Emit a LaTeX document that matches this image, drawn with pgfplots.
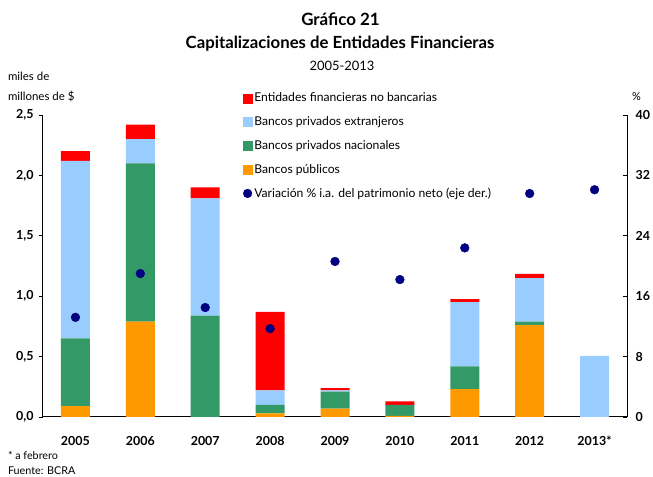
\documentclass[border=0pt]{standalone}
\usepackage{fontspec}
\setmainfont{Lato}
\usepackage{pgfplots}
\pgfplotsset{compat=1.18}
\definecolor{cred}{RGB}{255,0,0}
\definecolor{cblue}{RGB}{153,204,255}
\definecolor{cgreen}{RGB}{51,153,102}
\definecolor{corange}{RGB}{255,153,0}
\definecolor{cnavy}{RGB}{0,0,128}
\begin{document}
\begin{tikzpicture}[x=1bp,y=1bp]
\path[use as bounding box] (-43,-60) rectangle (610,417);
\pgfplotsset{
  base/.style={
    width=584bp, height=302bp, scale only axis,
    xmin=-0.5, xmax=8.5,
    /pgf/number format/assume math mode=true,
    tick label style={font=\fontsize{12.5}{14}\selectfont\bfseries},
    at={(0,0)}, anchor=south west,
  }
}
\begin{axis}[base,
  ymin=0, ymax=2.5,
  ybar stacked, bar width=29bp,
  axis y line*=left, axis x line*=bottom,
  axis line style={black, line width=1bp},
  xtick={0,...,8},
  xticklabels={2005,2006,2007,2008,2009,2010,2011,2012,2013*},
  x tick style={draw=none},
  xticklabel style={yshift=-12bp},
  ytick={0,0.5,1,1.5,2,2.5},
  yticklabels={{0,0},{0,5},{1,0},{1,5},{2,0},{2,5}},
  yticklabel style={xshift=-2bp},
  y tick style={black, line width=0.8bp},
  tick align=outside, major tick length=4bp,
]
\addplot[fill=corange, draw=none] coordinates {(0,0.09) (1,0.79) (2,0) (3,0.03) (4,0.07) (5,0.01) (6,0.23) (7,0.76) (8,0)};
\addplot[fill=cgreen, draw=none] coordinates {(0,0.56) (1,1.31) (2,0.84) (3,0.07) (4,0.14) (5,0.09) (6,0.19) (7,0.03) (8,0)};
\addplot[fill=cblue, draw=none] coordinates {(0,1.47) (1,0.20) (2,0.97) (3,0.12) (4,0.01) (5,0) (6,0.53) (7,0.36) (8,0.505)};
\addplot[fill=cred, draw=none] coordinates {(0,0.08) (1,0.12) (2,0.09) (3,0.65) (4,0.02) (5,0.03) (6,0.025) (7,0.035) (8,0)};
\end{axis}
\begin{axis}[base,
  ymin=0, ymax=40,
  axis y line*=right, axis x line=none,
  axis line style={black, line width=1bp},
  ytick={0,8,16,24,32,40},
  y tick style={black, line width=0.8bp},
  tick align=inside, major tick length=4bp,
  yticklabel style={xshift=5bp},
  legend cell align=left,
  legend style={at={(0.342,1.08)}, anchor=north west, draw=none, fill=none,
    font=\fontsize{12.2}{13}\selectfont, row sep=9.3bp, inner sep=0pt},
]
\addlegendimage{legend image code/.code={\fill[cred] (0bp,-4.5bp) rectangle (9bp,4.5bp);}}
\addlegendentry{Entidades financieras no bancarias}
\addlegendimage{legend image code/.code={\fill[cblue] (0bp,-4.5bp) rectangle (9bp,4.5bp);}}
\addlegendentry{Bancos privados extranjeros}
\addlegendimage{legend image code/.code={\fill[cgreen] (0bp,-4.5bp) rectangle (9bp,4.5bp);}}
\addlegendentry{Bancos privados nacionales}
\addlegendimage{legend image code/.code={\fill[corange] (0bp,-4.5bp) rectangle (9bp,4.5bp);}}
\addlegendentry{Bancos públicos}
\addplot[only marks, mark=*, mark size=4.4bp, color=cnavy,
  legend image code/.code={\fill[cnavy] (4.5bp,0bp) circle (4.4bp);}]
  coordinates {(0,13.2) (1,19.0) (2,14.5) (3,11.7) (4,20.6) (5,18.2) (6,22.4) (7,29.6) (8,30.1)};
\addlegendentry{Variación \% i.a. del patrimonio neto (eje der.)}
\end{axis}
\node[font=\fontsize{17}{19}\selectfont\bfseries] at (297.5,398) {Gráfico 21};
\node[font=\fontsize{16.8}{19}\selectfont\bfseries] at (297,373) {Capitalizaciones de Entidades Financieras};
\node[font=\fontsize{13}{15}\selectfont] at (299,351) {2005-2013};
\node[font=\fontsize{11.5}{13}\selectfont, anchor=west] at (-38.5,341) {miles de};
\node[font=\fontsize{11.5}{13}\selectfont, anchor=west] at (-38.5,321) {millones de \$};
\node[font=\fontsize{11}{13}\selectfont] at (593.5,320) {\%};
\node[font=\fontsize{10.8}{12}\selectfont, anchor=west] at (-38.5,-38) {* a febrero};
\node[font=\fontsize{10.8}{12}\selectfont, anchor=west] at (-38.5,-53.5) {Fuente: BCRA};
\end{tikzpicture}
\end{document}
